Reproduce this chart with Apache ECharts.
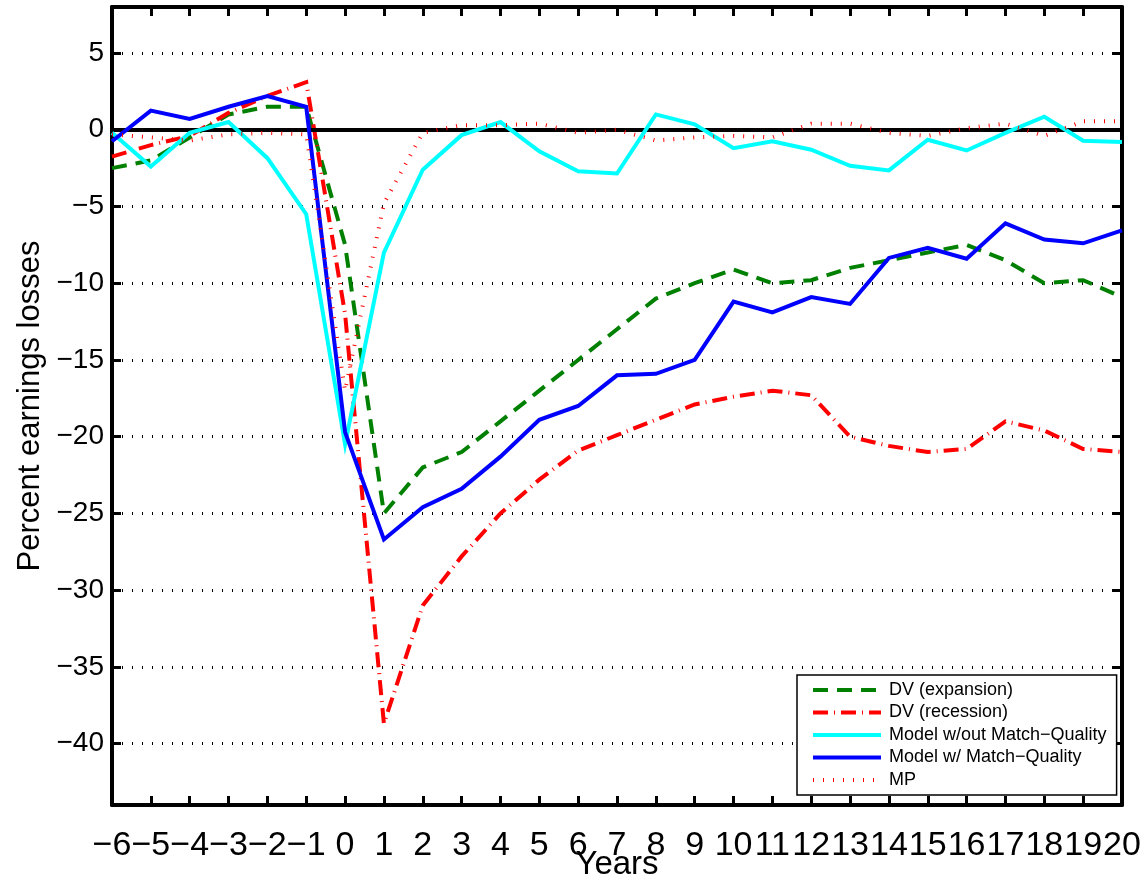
<!DOCTYPE html>
<html>
<head>
<meta charset="utf-8">
<script src="https://cdn.jsdelivr.net/npm/echarts@6/dist/echarts.min.js"></script>
<style>
  html, body { margin: 0; padding: 0; background: #fff; }
  #chart { width: 1147px; height: 882px; }
</style>
</head>
<body>
<div id="chart"></div>
<script>
// Years relative to displacement
const years = [-6,-5,-4,-3,-2,-1,0,1,2,3,4,5,6,7,8,9,10,11,12,13,14,15,16,17,18,19,20];

// Percent earnings losses by series
const dvExpansion = [-2.5,-2.0,-0.5,1.0,1.5,1.5,-7.5,-25.0,-22.0,-21.0,-19.0,-17.0,-15.0,-13.0,-11.0,-10.0,-9.1,-10.0,-9.8,-9.0,-8.5,-8.0,-7.5,-8.5,-10.0,-9.8,-10.9];
const dvRecession = [-1.75,-1.0,-0.4,1.1,2.2,3.1,-12.0,-38.7,-31.0,-27.8,-25.0,-22.8,-20.9,-19.9,-18.9,-17.9,-17.4,-17.0,-17.3,-20.0,-20.6,-21.0,-20.8,-19.0,-19.6,-20.8,-21.0];
const modelNoMQ = [-0.2,-2.4,-0.2,0.5,-1.85,-5.5,-20.5,-8.0,-2.6,-0.35,0.5,-1.4,-2.7,-2.85,1.0,0.35,-1.2,-0.75,-1.3,-2.35,-2.65,-0.65,-1.35,-0.2,0.85,-0.72,-0.8];
const modelMQ = [-0.75,1.25,0.7,1.5,2.2,1.5,-19.7,-26.7,-24.6,-23.4,-21.3,-18.9,-18.0,-16.0,-15.9,-15.0,-11.2,-11.9,-10.9,-11.35,-8.35,-7.7,-8.4,-6.1,-7.15,-7.4,-6.55];
const mp = [-0.3,-0.5,-0.7,-0.3,-0.2,-0.3,-17.0,-4.8,-0.2,0.3,0.3,0.4,-0.2,0.0,-0.7,-0.5,-0.4,-0.5,0.4,0.4,-0.2,-0.4,0.1,0.4,-0.4,0.55,0.55];

const seriesNames = ['DV (expansion)', 'DV (recession)', 'Model w/out Match\u2212Quality', 'Model w/ Match\u2212Quality', 'MP'];

const pair = arr => years.map((y, i) => [y, arr[i]]);

const baseFont = "'Liberation Sans', Arial, Helvetica, sans-serif";
const minusFmt = v => (v < 0 ? '\u2212' + Math.abs(v) : String(v));

const tickStyle = { show: true, inside: true, length: 9, lineStyle: { color: '#000', width: 3 } };
const frameLine = { show: true, onZero: false, lineStyle: { color: '#000', width: 4 } };

const chart = echarts.init(document.getElementById('chart'), null, { renderer: 'canvas' });

function lineSeries(name, arr, color, width, dash, z) {
  return {
    name: name,
    type: 'line',
    data: pair(arr),
    symbol: 'none',
    smooth: false,
    z: z,
    lineStyle: { color: color, width: width, type: dash, cap: 'butt', join: 'miter' },
    itemStyle: { color: color },
    emphasis: { disabled: true },
    animation: false
  };
}

chart.setOption({
  animation: false,
  backgroundColor: '#fff',
  grid: { left: 112, right: 25, top: 7, bottom: 77, containLabel: false, outerBoundsMode: 'none' },
  xAxis: [
    {
      type: 'value', position: 'bottom', min: -6, max: 20, interval: 1,
      name: 'Years', nameLocation: 'middle', nameGap: 43, nameMoveOverlap: false,
      nameTextStyle: { fontFamily: baseFont, fontSize: 33, color: '#000' },
      axisLine: frameLine,
      axisTick: tickStyle,
      axisLabel: { fontFamily: baseFont, fontSize: 34, color: '#000', margin: 24,
        showMinLabel: true, showMaxLabel: true, hideOverlap: false,
        formatter: minusFmt },
      splitLine: { show: false }
    },
    {
      type: 'value', position: 'top', min: -6, max: 20, interval: 1,
      axisLine: frameLine,
      axisTick: tickStyle,
      axisLabel: { show: false },
      splitLine: { show: false }
    }
  ],
  yAxis: [
    {
      type: 'value', position: 'left', min: -44, max: 8,
      splitNumber: 10, minInterval: 5, maxInterval: 5,
      name: 'Percent earnings losses', nameLocation: 'middle', nameGap: 66, nameRotate: 90,
      nameMoveOverlap: false,
      nameTextStyle: { fontFamily: baseFont, fontSize: 31, color: '#000' },
      axisLine: frameLine,
      axisTick: tickStyle,
      axisLabel: { fontFamily: baseFont, fontSize: 28, color: '#000', margin: 8,
        showMinLabel: false, showMaxLabel: false,
        formatter: v => (v % 5 !== 0 ? '' : minusFmt(v)) },
      splitLine: { show: true, showMinLine: false, showMaxLine: false,
        lineStyle: { color: '#000', width: 3, type: [1, 9], cap: 'butt' } }
    },
    {
      type: 'value', position: 'right', min: -44, max: 8,
      splitNumber: 10, minInterval: 5, maxInterval: 5,
      axisLine: frameLine,
      axisTick: tickStyle,
      axisLabel: { show: false },
      splitLine: { show: false }
    }
  ],
  legend: {
    data: seriesNames,
    orient: 'vertical',
    left: 797, top: 675,
    padding: [6, 10, 6, 14],
    itemGap: 4.5,
    itemWidth: 68, itemHeight: 14,
    itemStyle: { color: 'rgba(0,0,0,0)', borderColor: 'rgba(0,0,0,0)', borderWidth: 0, opacity: 0 },
    lineStyle: { width: 4 },
    backgroundColor: '#fff',
    borderColor: '#000', borderWidth: 1.5,
    textStyle: { fontFamily: baseFont, fontSize: 18, color: '#000', padding: [0, 0, 0, 3] },
    selectedMode: false
  },
  series: [
    lineSeries(seriesNames[0], dvExpansion, '#008000', 4, [15, 9], 3),
    lineSeries(seriesNames[1], dvRecession, '#ff0000', 4, [15, 6, 1, 6], 4),
    lineSeries(seriesNames[2], modelNoMQ, '#00ffff', 4, 'solid', 5),
    lineSeries(seriesNames[3], modelMQ, '#0000ff', 4, 'solid', 6),
    lineSeries(seriesNames[4], mp, '#ff0000', 4, [1, 9], 7),
    {
      // horizontal reference line at zero
      name: 'zero', type: 'line', data: [], z: 9, silent: true,
      markLine: {
        silent: true, symbol: 'none', animation: false,
        label: { show: false },
        lineStyle: { color: '#000', width: 4, type: 'solid' },
        data: [{ yAxis: 0 }]
      }
    }
  ]
});
</script>
</body>
</html>
